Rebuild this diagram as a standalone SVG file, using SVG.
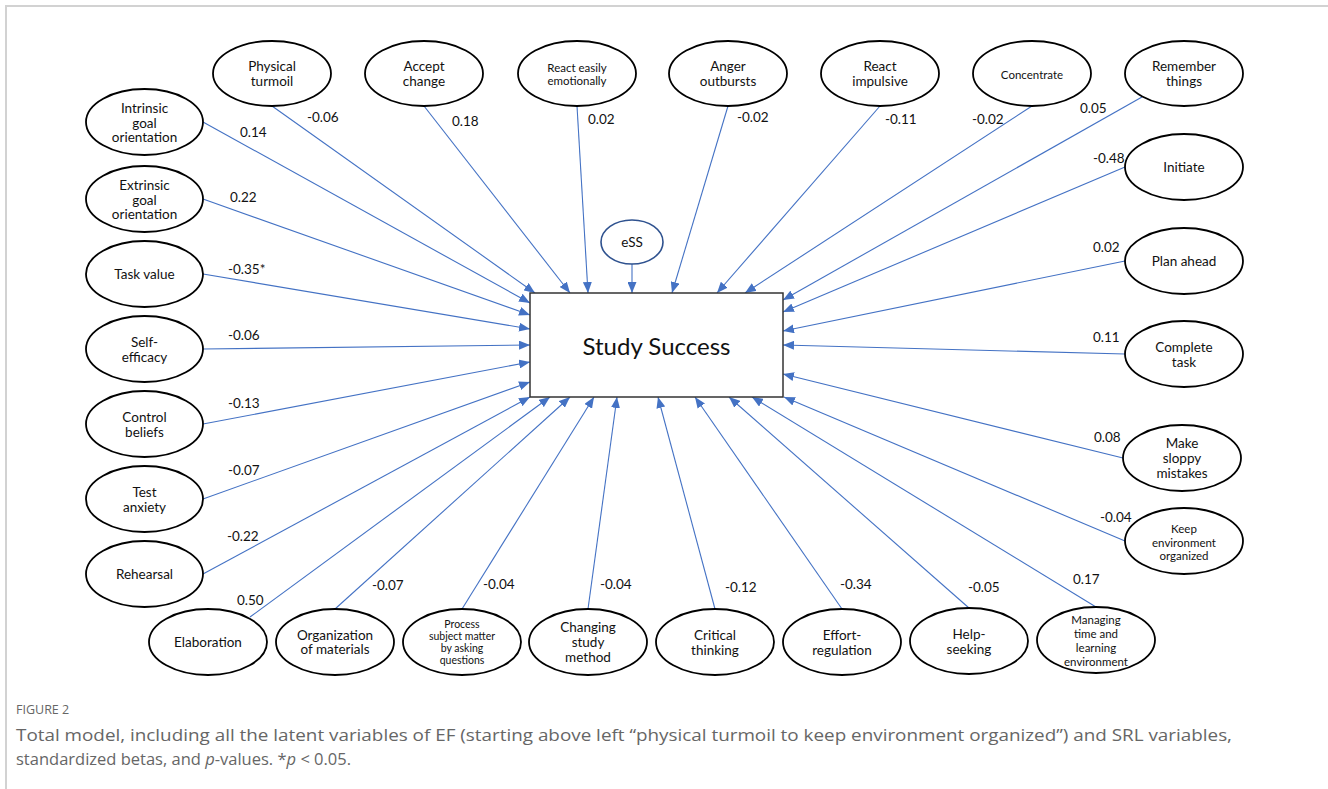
<svg xmlns="http://www.w3.org/2000/svg" width="1328" height="789" viewBox="0 0 1328 789">
  <defs>
    <marker id="arrow" markerUnits="userSpaceOnUse" markerWidth="11" markerHeight="9" refX="11" refY="4.5" orient="auto">
      <path d="M0,0 L11,4.5 L0,9 z" fill="#4472c4"/>
    </marker>
    <style>
      .frame { fill: none; stroke: #d2d2d2; stroke-width: 2; }
      .node ellipse { fill: #fff; stroke: #000; stroke-width: 1.8; }
      .node text { font-family: Lato, "Liberation Sans", sans-serif; font-size: 13.5px; fill: #111; text-anchor: middle; dominant-baseline: central; }
      .node text.sm { font-size: 11.5px; }
      .node text.xs { font-size: 10.5px; }
      #eSS ellipse { stroke: #2f528f; stroke-width: 1.6; }
      #study-success rect { fill: #fff; stroke: #333; stroke-width: 1.5; }
      #study-success text { font-family: Lato, "Liberation Sans", sans-serif; font-size: 24px; fill: #111; text-anchor: middle; dominant-baseline: central; }
      .links line { stroke: #4472c4; stroke-width: 1.1; marker-end: url(#arrow); }
      .beta text { font-family: Lato, "Liberation Sans", sans-serif; font-size: 13.5px; fill: #111; dominant-baseline: central; }
      .caption { font-family: "Open Sans", "Liberation Sans", sans-serif; fill: #666; }
    </style>
  </defs>

  <rect width="1328" height="789" fill="#fff"/>
  <path class="frame" d="M6,789 V6 H1328"/>

  <!-- connectors -->
  <g class="links" id="connectors">
    <!-- left column -->
    <line x1="203" y1="122" x2="530" y2="303"/>
    <line x1="203" y1="199" x2="530" y2="315"/>
    <line x1="203" y1="274" x2="530" y2="329"/>
    <line x1="203" y1="349" x2="530" y2="345"/>
    <line x1="203" y1="424" x2="530" y2="362"/>
    <line x1="203" y1="499" x2="530" y2="382"/>
    <line x1="203" y1="574" x2="530" y2="397"/>
    <!-- top row -->
    <line x1="272" y1="106" x2="535" y2="293"/>
    <line x1="424" y1="106" x2="570" y2="293"/>
    <line x1="577" y1="106" x2="588" y2="293"/>
    <line x1="632" y1="264" x2="632" y2="293"/>
    <line x1="728" y1="106" x2="672" y2="293"/>
    <line x1="880" y1="106" x2="717" y2="293"/>
    <line x1="1032" y1="106" x2="745" y2="293"/>
    <!-- right column -->
    <line x1="1142" y1="97" x2="783" y2="300"/>
    <line x1="1125" y1="167" x2="783" y2="312"/>
    <line x1="1125" y1="261" x2="783" y2="331"/>
    <line x1="1125" y1="354" x2="783" y2="345"/>
    <line x1="1123" y1="458" x2="783" y2="374"/>
    <line x1="1125" y1="541" x2="784" y2="397"/>
    <!-- bottom row -->
    <line x1="250" y1="617" x2="550" y2="397"/>
    <line x1="335" y1="609" x2="570" y2="397"/>
    <line x1="462" y1="609" x2="594" y2="397"/>
    <line x1="588" y1="609" x2="617" y2="397"/>
    <line x1="715" y1="609" x2="658" y2="397"/>
    <line x1="842" y1="609" x2="695" y2="397"/>
    <line x1="969" y1="608" x2="729" y2="397"/>
    <line x1="1096" y1="607" x2="752" y2="397"/>
  </g>

  <!-- standardized betas -->
  <g class="beta" id="betas">
    <text x="240" y="132">0.14</text>
    <text x="307" y="117">-0.06</text>
    <text x="230" y="197">0.22</text>
    <text x="228" y="269">-0.35*</text>
    <text x="228" y="335">-0.06</text>
    <text x="228" y="403">-0.13</text>
    <text x="228" y="470">-0.07</text>
    <text x="227" y="536">-0.22</text>
    <text x="237" y="600">0.50</text>
    <text x="372" y="585">-0.07</text>
    <text x="483" y="584">-0.04</text>
    <text x="600" y="584">-0.04</text>
    <text x="725" y="587">-0.12</text>
    <text x="840" y="584">-0.34</text>
    <text x="968" y="587">-0.05</text>
    <text x="1073" y="579">0.17</text>
    <text x="1100" y="517">-0.04</text>
    <text x="1094" y="437">0.08</text>
    <text x="1093" y="337">0.11</text>
    <text x="1093" y="247">0.02</text>
    <text x="1093" y="158">-0.48</text>
    <text x="1080" y="108">0.05</text>
    <text x="972" y="119">-0.02</text>
    <text x="885" y="119">-0.11</text>
    <text x="737" y="117">-0.02</text>
    <text x="588" y="119">0.02</text>
    <text x="452" y="121">0.18</text>
  </g>

  <!-- outcome -->
  <g id="study-success">
    <rect x="530" y="293" width="253" height="104"/>
    <text x="656.5" y="345">Study Success</text>
  </g>
  <g class="node" id="eSS">
    <ellipse cx="632" cy="242" rx="31" ry="22"/>
    <text x="632" y="242">eSS</text>
  </g>

  <!-- top row: EF variables -->
  <g class="node" id="physical-turmoil">
    <ellipse cx="272" cy="73.5" rx="59" ry="32.5"/>
    <text x="272" y="66">Physical</text><text x="272" y="81">turmoil</text>
  </g>
  <g class="node" id="accept-change">
    <ellipse cx="424" cy="73.5" rx="59" ry="32.5"/>
    <text x="424" y="66">Accept</text><text x="424" y="81">change</text>
  </g>
  <g class="node" id="react-easily-emotionally">
    <ellipse cx="577" cy="73.5" rx="59" ry="32.5"/>
    <text class="sm" x="577" y="67">React easily</text><text class="sm" x="577" y="80">emotionally</text>
  </g>
  <g class="node" id="anger-outbursts">
    <ellipse cx="728" cy="73.5" rx="59" ry="32.5"/>
    <text x="728" y="66">Anger</text><text x="728" y="81">outbursts</text>
  </g>
  <g class="node" id="react-impulsive">
    <ellipse cx="880" cy="73.5" rx="59" ry="32.5"/>
    <text x="880" y="66">React</text><text x="880" y="81">impulsive</text>
  </g>
  <g class="node" id="concentrate">
    <ellipse cx="1032" cy="73.5" rx="59" ry="32.5"/>
    <text class="sm" x="1032" y="74">Concentrate</text>
  </g>
  <g class="node" id="remember-things">
    <ellipse cx="1184" cy="73.5" rx="59" ry="32.5"/>
    <text x="1184" y="66">Remember</text><text x="1184" y="81">things</text>
  </g>

  <!-- right column: EF variables -->
  <g class="node" id="initiate">
    <ellipse cx="1184" cy="167" rx="59" ry="33"/>
    <text x="1184" y="167">Initiate</text>
  </g>
  <g class="node" id="plan-ahead">
    <ellipse cx="1184" cy="261" rx="59" ry="33"/>
    <text x="1184" y="261">Plan ahead</text>
  </g>
  <g class="node" id="complete-task">
    <ellipse cx="1184" cy="354" rx="59" ry="33"/>
    <text x="1184" y="347">Complete</text><text x="1184" y="362">task</text>
  </g>
  <g class="node" id="make-sloppy-mistakes">
    <ellipse cx="1182" cy="458" rx="59" ry="33"/>
    <text x="1182" y="443">Make</text><text x="1182" y="458">sloppy</text><text x="1182" y="473">mistakes</text>
  </g>
  <g class="node" id="keep-environment-organized">
    <ellipse cx="1184" cy="541" rx="59" ry="33"/>
    <text class="sm" x="1184" y="528">Keep</text><text class="sm" x="1184" y="542">environment</text><text class="sm" x="1184" y="555">organized</text>
  </g>

  <!-- left column: SRL variables -->
  <g class="node" id="intrinsic-goal-orientation">
    <ellipse cx="144.5" cy="122" rx="58.5" ry="33"/>
    <text x="144.5" y="108">Intrinsic</text><text x="144.5" y="122.5">goal</text><text x="144.5" y="137">orientation</text>
  </g>
  <g class="node" id="extrinsic-goal-orientation">
    <ellipse cx="144.5" cy="199" rx="58.5" ry="33"/>
    <text x="144.5" y="185">Extrinsic</text><text x="144.5" y="199.5">goal</text><text x="144.5" y="214">orientation</text>
  </g>
  <g class="node" id="task-value">
    <ellipse cx="144.5" cy="274" rx="58.5" ry="33"/>
    <text x="144.5" y="274">Task value</text>
  </g>
  <g class="node" id="self-efficacy">
    <ellipse cx="144.5" cy="349" rx="58.5" ry="33"/>
    <text x="144.5" y="342">Self-</text><text x="144.5" y="357">efficacy</text>
  </g>
  <g class="node" id="control-beliefs">
    <ellipse cx="144.5" cy="424" rx="58.5" ry="33"/>
    <text x="144.5" y="417">Control</text><text x="144.5" y="432">beliefs</text>
  </g>
  <g class="node" id="test-anxiety">
    <ellipse cx="144.5" cy="499" rx="58.5" ry="33"/>
    <text x="144.5" y="492">Test</text><text x="144.5" y="507">anxiety</text>
  </g>
  <g class="node" id="rehearsal">
    <ellipse cx="144.5" cy="574" rx="58.5" ry="33"/>
    <text x="144.5" y="574">Rehearsal</text>
  </g>

  <!-- bottom row: SRL variables -->
  <g class="node" id="elaboration">
    <ellipse cx="208" cy="642" rx="59" ry="33"/>
    <text x="208" y="642">Elaboration</text>
  </g>
  <g class="node" id="organization-of-materials">
    <ellipse cx="335" cy="642" rx="59" ry="33"/>
    <text x="335" y="635">Organization</text><text x="335" y="649">of materials</text>
  </g>
  <g class="node" id="process-subject-matter">
    <ellipse cx="462" cy="642" rx="59" ry="33"/>
    <text class="xs" x="462" y="624">Process</text><text class="xs" x="462" y="636">subject matter</text><text class="xs" x="462" y="648">by asking</text><text class="xs" x="462" y="660">questions</text>
  </g>
  <g class="node" id="changing-study-method">
    <ellipse cx="588" cy="642" rx="59" ry="33"/>
    <text x="588" y="627">Changing</text><text x="588" y="642">study</text><text x="588" y="657">method</text>
  </g>
  <g class="node" id="critical-thinking">
    <ellipse cx="715" cy="642" rx="59" ry="33"/>
    <text x="715" y="635">Critical</text><text x="715" y="650">thinking</text>
  </g>
  <g class="node" id="effort-regulation">
    <ellipse cx="842" cy="642" rx="59" ry="33"/>
    <text x="842" y="635">Effort-</text><text x="842" y="650">regulation</text>
  </g>
  <g class="node" id="help-seeking">
    <ellipse cx="969" cy="641" rx="59" ry="33"/>
    <text x="969" y="634">Help-</text><text x="969" y="649">seeking</text>
  </g>
  <g class="node" id="managing-time">
    <ellipse cx="1096" cy="640" rx="59" ry="33"/>
    <text class="sm" x="1096" y="619">Managing</text><text class="sm" x="1096" y="633">time and</text><text class="sm" x="1096" y="647">learning</text><text class="sm" x="1096" y="661">environment</text>
  </g>

  <!-- caption -->
  <text class="caption" x="16" y="714" font-size="12.5" fill="#555">FIGURE 2</text>
  <text class="caption" x="16" y="741" font-size="16.5" textLength="1216" lengthAdjust="spacingAndGlyphs">Total model, including all the latent variables of EF (starting above left “physical turmoil to keep environment organized”) and SRL variables,</text>
  <text class="caption" x="16" y="765" font-size="16.5">standardized betas, and <tspan font-style="italic">p</tspan>-values. *<tspan font-style="italic">p</tspan> &lt; 0.05.</text>
</svg>
